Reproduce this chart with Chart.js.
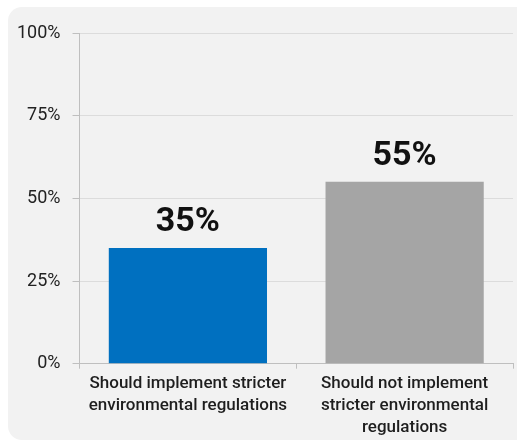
<!DOCTYPE html>
<html>
<head>
<meta charset="utf-8">
<script src="https://cdn.jsdelivr.net/npm/chart.js@4/dist/chart.umd.min.js"></script>
<style>
  html, body { margin: 0; padding: 0; background: #ffffff; }
  #panel { position: absolute; left: 8px; top: 7px; width: 530px; height: 433px; background: #f2f2f2; border-radius: 14px; }
  #wrap { position: absolute; left: 0; top: 0; width: 517px; height: 444px; }
</style>
</head>
<body>
<div id="panel"></div>
<div id="wrap"><canvas id="chart"></canvas></div>
<script>
const categories = [
  ['Should implement stricter', 'environmental regulations'],
  ['Should not implement', 'stricter environmental', 'regulations']
];
const shares = [35, 55];
const barColors = ['#0070c0', '#a5a5a5'];
const yTicks = [0, 25, 50, 75, 100];

// values written above each bar
const valueLabels = {
  id: 'valueLabels',
  afterDatasetsDraw(chart) {
    const ctx = chart.ctx;
    const meta = chart.getDatasetMeta(0);
    ctx.save();
    ctx.font = 'bold 34px Roboto';
    ctx.fillStyle = '#111111';
    ctx.textAlign = 'center';
    ctx.textBaseline = 'middle';
    meta.data.forEach((bar, i) => {
      ctx.fillText(shares[i] + '%', bar.x, bar.y - 25);
    });
    ctx.restore();
  }
};

const ctx = document.getElementById('chart').getContext('2d');
const chart = new Chart(ctx, {
  type: 'bar',
  data: {
    labels: categories,
    datasets: [{
      data: shares,
      backgroundColor: barColors,
      categoryPercentage: 1,
      barPercentage: 0.73
    }]
  },
  options: {
    responsive: true,
    maintainAspectRatio: false,
    animation: false,
    layout: { padding: { left: 5, right: 4, top: 33, bottom: 1 } },
    plugins: { legend: { display: false }, tooltip: { enabled: false } },
    scales: {
      y: {
        min: 0,
        max: 100,
        afterBuildTicks(axis) { axis.ticks = yTicks.map(v => ({ value: v })); },
        ticks: {
          callback: v => v + '%',
          color: '#222222',
          font: { family: 'Roboto', size: 18 },
          padding: 12
        },
        grid: { color: '#dcdcdc', tickColor: '#bfbfbf', tickLength: 7 },
        border: { color: '#bfbfbf' }
      },
      x: {
        ticks: {
          color: '#1e1e1e',
          font: { family: 'Roboto', size: 17, weight: 500, lineHeight: 1.3 },
          padding: 4,
          maxRotation: 0
        },
        grid: { drawOnChartArea: false, tickColor: '#bfbfbf', tickLength: 5 },
        border: { color: '#bfbfbf' }
      }
    }
  },
  plugins: [valueLabels]
});
</script>
</body>
</html>
